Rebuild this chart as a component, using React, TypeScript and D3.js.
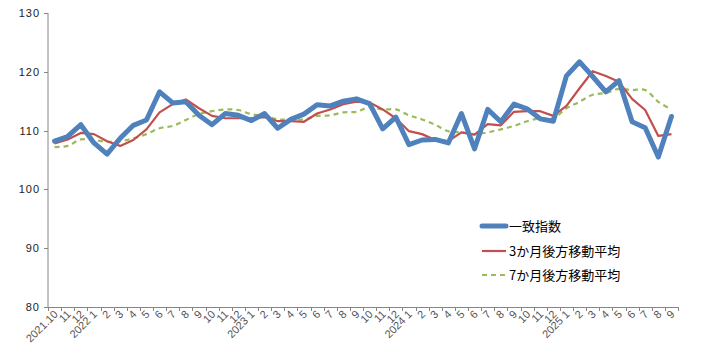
import React from "react";
import * as d3 from "d3";

const months: string[] = [
  "2021.10", "11", "12", "2022 1", "2", "3", "4", "5", "6", "7", "8", "9", "10", "11", "12",
  "2023 1", "2", "3", "4", "5", "6", "7", "8", "9", "10", "11", "12",
  "2024 1", "2", "3", "4", "5", "6", "7", "8", "9", "10", "11", "12",
  "2025 1", "2", "3", "4", "5", "6", "7", "8", "9",
];

const coincident: number[] = [
  108.2, 109.0, 111.0, 107.9, 106.0, 108.7, 110.9, 111.8, 116.6, 114.7, 114.9, 112.6,
  111.0, 112.9, 112.6, 111.7, 112.9, 110.4, 111.9, 112.8, 114.4, 114.2, 115.0, 115.4,
  114.6, 110.3, 112.3, 107.6, 108.4, 108.5, 107.9, 112.9, 106.9, 113.6, 111.5, 114.5,
  113.7, 112.0, 111.6, 119.3, 121.7, 119.2, 116.6, 118.5, 111.5, 110.5, 105.5, 112.4,
];

const ma3: number[] = [
  107.8, 108.5, 109.6, 109.4, 108.2, 107.4, 108.4, 110.2, 113.1, 114.5, 115.3, 113.8,
  112.5, 112.1, 112.1, 112.1, 112.3, 111.6, 111.6, 111.5, 112.9, 113.6, 114.5, 114.9,
  114.8, 113.6, 112.1, 109.9, 109.4, 108.4, 108.2, 109.7, 109.3, 111.1, 110.9, 113.2,
  113.3, 113.3, 112.5, 114.2, 117.2, 120.1, 119.3, 118.3, 115.4, 113.5, 109.1, 109.4,
];

const ma7: number[] = [
  107.2, 107.4, 108.5, 108.4, 108.1, 108.2, 108.7, 109.4, 110.4, 110.8, 111.8, 112.8,
  113.3, 113.6, 113.5, 112.8, 112.5, 111.9, 111.9, 111.9, 112.5, 112.6, 113.1, 113.2,
  114.0, 113.6, 113.6, 112.6, 111.9, 111.0, 109.9, 109.7, 109.4, 109.7, 110.2, 110.8,
  111.6, 112.1, 112.1, 113.8, 114.9, 116.1, 116.4, 117.1, 116.9, 116.9, 114.9, 113.6,
];

const yTicks: number[] = [80, 90, 100, 110, 120, 130];
const seriesNames: string[] = ["一致指数", "3か月後方移動平均", "7か月後方移動平均"];

const W = 701;
const H = 357;
const left = 48;
const right = 678;
const top = 13;
const bottom = 307;
const axisColor = "#868686";
const fontFam = "'Liberation Sans', 'Noto Sans CJK JP', sans-serif";

export default function App() {
  const x = d3.scaleBand<number>().domain(d3.range(months.length)).range([left, right]).padding(0);
  const y = d3.scaleLinear().domain([80, 130]).range([bottom, top]);
  const cx = (i: number) => (x(i) as number) + x.bandwidth() / 2;

  const lin = d3.line<number>().x((_, i) => cx(i)).y((v) => y(v));
  const smooth = d3
    .line<number>()
    .x((_, i) => cx(i))
    .y((v) => y(v))
    .curve(d3.curveCatmullRom.alpha(0.5));

  const boundaries = d3.range(months.length + 1).map((i) => left + i * x.bandwidth());

  const legendX = 482;
  const legendRows = [226, 251, 275];

  return (
    <svg width={W} height={H} style={{ position: "absolute", left: 0, top: 0, background: "#fff" }}>
      <line x1={left} x2={left} y1={top} y2={bottom} stroke={axisColor} strokeWidth={1} />
      <line x1={left} x2={right} y1={bottom + 0.5} y2={bottom + 0.5} stroke={axisColor} strokeWidth={1} />
      {yTicks.map((t) => (
        <g key={t}>
          <line x1={left - 4} x2={left} y1={Math.round(y(t)) + 0.5} y2={Math.round(y(t)) + 0.5} stroke={axisColor} />
          <text
            x={40}
            y={y(t) + 4}
            textAnchor="end"
            fontSize={11}
            fontFamily={fontFam}
            fill="#222"
            letterSpacing={1}
          >
            {t}
          </text>
        </g>
      ))}
      {boundaries.map((bx, i) => (
        <line key={i} x1={Math.round(bx) + 0.5} x2={Math.round(bx) + 0.5} y1={bottom} y2={bottom + 4} stroke={axisColor} />
      ))}
      {months.map((m, i) => (
        <text
          key={i}
          transform={`translate(${cx(i) + 4},${bottom + 8}) rotate(-45)`}
          textAnchor="end"
          fontSize={11}
          fontFamily={fontFam}
          fill="#555"
        >
          {m}
        </text>
      ))}

      <path d={smooth(ma7) || ""} fill="none" stroke="#9BBB59" strokeWidth={2.2} strokeDasharray="5,4" />
      <path d={lin(ma3) || ""} fill="none" stroke="#C0504D" strokeWidth={2.2} strokeLinejoin="round" />
      <path d={lin(coincident) || ""} fill="none" stroke="#4F81BD" strokeWidth={5} strokeLinejoin="round" strokeLinecap="round" />

      <line x1={legendX} x2={legendX + 24} y1={legendRows[0]} y2={legendRows[0]} stroke="#4F81BD" strokeWidth={5} strokeLinecap="round" />
      <line x1={legendX} x2={legendX + 24} y1={legendRows[1]} y2={legendRows[1]} stroke="#C0504D" strokeWidth={2.2} />
      <line x1={legendX} x2={legendX + 24} y1={legendRows[2]} y2={legendRows[2]} stroke="#9BBB59" strokeWidth={2.2} strokeDasharray="5,4" />
      {seriesNames.map((n, i) => (
        <text
          key={n}
          x={legendX + 27}
          y={legendRows[i] + 5}
          fontSize={13}
          fontFamily="'Noto Sans CJK JP', sans-serif"
          fill="#000"
        >
          {n}
        </text>
      ))}
    </svg>
  );
}
